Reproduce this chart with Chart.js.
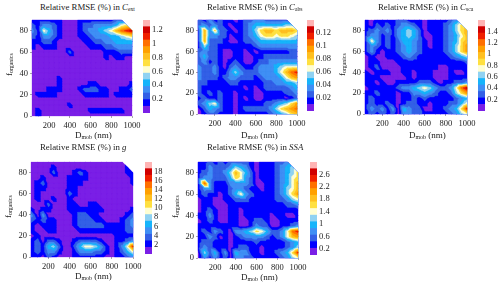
<!DOCTYPE html>
<html>
<head>
<meta charset="utf-8">
<script src="https://cdn.jsdelivr.net/npm/chart.js@4"></script>
<style>
body { margin: 0; background: #fff; width: 500px; height: 286px; overflow: hidden; font-family: "Liberation Serif", serif; color: #222; }
canvas { position: absolute; }
.t { position: absolute; white-space: nowrap; line-height: 1; }
sub { font-size: 65%; line-height: 0; vertical-align: -0.25em; }
</style>
</head>
<body>
<script>
// grid nodes of the contour data
var dMob = [35,100,150,200,250,300,350,400,450,500,550,600,650,700,750,800,850,900,950,1000];
var fOrg = [90,85,80,75,70,65,60,55,50,45,40,35,30,25,20,15,10,5,0];

// contour band at each node, one string per row, hex digit = band, . = no data
var cExt = [
  '111111000111111122..',
  '2133210001223333467.',
  '31642100012334568abc',
  '21332100011233344567',
  '11221000001122334444',
  '10111000000111223333',
  '00000002000000111222',
  '00000000000000101100',
  '00000000000000000000',
  '00000000000000000000',
  '00000000000000000000',
  '00000100000000000000',
  '00000100000110000001',
  '00011100012221100112',
  '01111000001111101111',
  '00000000000000000000',
  '00000001000000000000',
  '01000000000111111100',
  '01000000000000000000'
];
var cAbs = [
  '213121101223322222..',
  '2323210112344444455.',
  '18372210123578878887',
  '18332201123467767765',
  '18222100122344444444',
  '15221111111233333333',
  '23221001101011111122',
  '24221001100112222222',
  '23121012100122333333',
  '32231023211233345666',
  '322311353222333468ab',
  '32221233222123334689',
  '22111122111112233445',
  '21111111101012222234',
  '21212110111001111223',
  '12112110101001111012',
  '23562110111112234579',
  '0243211012222235789a',
  '01221110111111234578'
];
var cSca = [
  '101111221110111123..',
  '1021212332101112357.',
  '12323134542011123578',
  '13312134542001123468',
  '16312124432101123478',
  '13212123432101123579',
  '13101123432111123579',
  '01001112321111112345',
  '01100011111111111112',
  '01200001111111001111',
  '10111001101110001001',
  '11100000101110001111',
  '11010011112221011223',
  '011111233456532236ac',
  '11211101133432112579',
  '12111101121211111234',
  '12112101221101112246',
  '1323130432200112347b',
  '12121203322111112356'
];
var cG = [
  '000000000000000000..',
  '0000100000000000001.',
  '00002000121000000011',
  '00100001111000000001',
  '01200001110000000001',
  '01100001100000000000',
  '01000002100000000000',
  '01001001000000000000',
  '00020001100110000000',
  '10110001111111000001',
  '30300000122110000012',
  '21211000122211000123',
  '10111000122222111123',
  '10011000011111111122',
  '01000000000000001111',
  '12022100122221001123',
  '1214520024665310136b',
  '12133100133322101246',
  '11021000111111001123'
];
var cSsa = [
  '112121222210111223..',
  '1132223543101112345.',
  '12322358642011123457',
  '13322247632011123467',
  '1a311133332001123468',
  '13311123321101123568',
  '12110124632111123579',
  '01100112221111122356',
  '01100011111111111223',
  '01210011011111111111',
  '11310011011111011001',
  '01210011001221001111',
  '11111111001322001123',
  '121321033457642236ab',
  '11320101233332123689',
  '12211101111211111234',
  '13211101221101111235',
  '0524130433110112347b',
  '03131203322111112356'
];

// top of each colour bar and its labels
var barTops = [1.34, 0.14, 1.6, 20, 3];
var ticksExt = [0.2,0.4,0.6,0.8,1,1.2];
var ticksAbs = [0.02,0.04,0.06,0.08,0.1,0.12];
var ticksSca = [0.2,0.4,0.6,0.8,1,1.2,1.4];
var ticksG = [2,4,6,8,10,12,14,16,18];
var ticksSsa = [0.2,0.6,1,1.4,1.8,2.2,2.6];

var bandColors = ['#7a1fe6','#0000ff','#3360e6','#3f8ff5','#16b4fb','#90d2f2','#fffed2','#ffe040','#ffc020','#ffa000','#ff7000','#f02000','#d00000','#ffb4b4'];

var xTicks = [200,400,600,800,1000];
var yTicks = [0,20,40,60,80];

var panels = [
  { grid: cExt, ticks: ticksExt, top: barTops[0], x: 32, y: 17, w: 100, h: 99, barX: 143, title: 'Relative RMSE (%) in <i>C</i><sub>ext</sub>', tx: 40, ty: 3, lx: 75, ly: 131 },
  { grid: cAbs, ticks: ticksAbs, top: barTops[1], x: 198, y: 17, w: 99, h: 97, barX: 307, title: 'Relative RMSE (%) in <i>C</i><sub>abs</sub>', tx: 207, ty: 3, lx: 241, ly: 131 },
  { grid: cSca, ticks: ticksSca, top: barTops[2], x: 365, y: 17, w: 102, h: 97, barX: 478, title: 'Relative RMSE (%) in <i>C</i><sub>sca</sub>', tx: 378, ty: 3, lx: 409, ly: 131 },
  { grid: cG, ticks: ticksG, top: barTops[3], x: 31, y: 159, w: 102, h: 98, barX: 145, title: 'Relative RMSE (%) in <i>g</i>', tx: 40, ty: 143, lx: 75, ly: 272 },
  { grid: cSsa, ticks: ticksSsa, top: barTops[4], x: 198, y: 159, w: 100, h: 99, barX: 310, title: 'Relative RMSE (%) in <i>SSA</i>', tx: 207, ty: 143, lx: 241, ly: 273 }
];

var tickFont = { family: 'Liberation Serif', size: 8.5 };

function addText(html, x, y, size, rotate) {
  var d = document.createElement('div');
  d.className = 't';
  d.innerHTML = html;
  d.style.left = x + 'px';
  d.style.top = y + 'px';
  d.style.fontSize = size + 'px';
  if (rotate) {
    d.style.transformOrigin = '0 0';
    d.style.transform = 'rotate(-90deg)';
  }
  document.body.appendChild(d);
}

function addCanvas(x, y, w, h) {
  var c = document.createElement('canvas');
  c.width = w;
  c.height = h;
  c.style.left = x + 'px';
  c.style.top = y + 'px';
  c.style.width = w + 'px';
  c.style.height = h + 'px';
  document.body.appendChild(c);
  return c.getContext('2d');
}

// keep the part of a triangle where value >= level
function clipTri(tri, level) {
  var out = [];
  for (var i = 0; i < 3; i++) {
    var a = tri[i], b = tri[(i + 1) % 3];
    if (a.v >= level) out.push(a);
    if ((a.v >= level) !== (b.v >= level)) {
      var t = (level - a.v) / (b.v - a.v);
      out.push({ px: a.px + t * (b.px - a.px), py: a.py + t * (b.py - a.py), v: level });
    }
  }
  return out;
}

// filled contours of the grid dataset, placed with the chart's scales
var contourPlugin = {
  id: 'contour',
  beforeDatasetsDraw: function(chart) {
    var ds = chart.data.datasets[0].data;
    var step = chart.options.plugins.contour.step;
    var nx = dMob.length;
    var nodes = ds.map(function(n) {
      return {
        px: chart.scales.x.getPixelForValue(n.x),
        py: chart.scales.y.getPixelForValue(n.y),
        v: n.v === null ? null : n.v / step
      };
    });
    var tris = [];
    for (var r = 0; r < fOrg.length - 1; r++) {
      for (var i = 0; i < nx - 1; i++) {
        var a = nodes[r * nx + i], b = nodes[r * nx + i + 1];
        var c = nodes[(r + 1) * nx + i], d = nodes[(r + 1) * nx + i + 1];
        [[a, b, d], [a, d, c]].forEach(function(t) {
          if (t[0].v !== null && t[1].v !== null && t[2].v !== null) tris.push(t);
        });
      }
    }
    var ctx = chart.ctx;
    ctx.save();
    bandColors.forEach(function(color, level) {
      ctx.beginPath();
      tris.forEach(function(t) {
        var poly = clipTri(t, level);
        if (poly.length < 3) return;
        ctx.moveTo(poly[0].px, poly[0].py);
        for (var k = 1; k < poly.length; k++) ctx.lineTo(poly[k].px, poly[k].py);
        ctx.closePath();
      });
      ctx.fillStyle = color;
      ctx.strokeStyle = color;
      ctx.lineWidth = 0.3;
      ctx.fill();
      ctx.stroke();
    });
    ctx.restore();
  }
};

function drawPanel(p) {
  var step = p.top / 14;
  var nodes = [];
  fOrg.forEach(function(f, r) {
    dMob.forEach(function(d, i) {
      var ch = p.grid[r][i];
      nodes.push({ x: d, y: f, v: ch === '.' ? null : (parseInt(ch, 16) + 0.5) * step });
    });
  });

  new Chart(addCanvas(p.x - 24, p.y - 4, p.w + 40, p.h + 20), {
    type: 'scatter',
    data: { datasets: [{ data: nodes, pointRadius: 0 }] },
    plugins: [contourPlugin],
    options: {
      responsive: false,
      animation: false,
      events: [],
      layout: { padding: { top: 4, right: 16, left: 0, bottom: 0 } },
      plugins: { legend: { display: false }, tooltip: { enabled: false }, contour: { step: step } },
      scales: {
        x: {
          type: 'linear', min: 35, max: 1000,
          afterBuildTicks: function(s) { s.ticks = xTicks.map(function(v) { return { value: v }; }); },
          afterFit: function(s) { s.height = 16; },
          grid: { drawOnChartArea: false, tickLength: 2, color: '#aaa' },
          border: { display: false },
          ticks: { font: tickFont, color: '#222', padding: 3, maxRotation: 0, autoSkip: false, callback: function(v) { return v; } }
        },
        y: {
          min: 0, max: 90,
          afterBuildTicks: function(s) { s.ticks = yTicks.map(function(v) { return { value: v }; }); },
          afterFit: function(s) { s.width = 24; },
          grid: { drawOnChartArea: false, tickLength: 2, color: '#aaa' },
          border: { display: false },
          ticks: { font: tickFont, color: '#222', padding: 2, autoSkip: false, callback: function(v) { return v; } }
        }
      }
    }
  });

  // colour bar
  var barSets = bandColors.map(function(c, i) {
    return { data: [[i * step, (i + 1) * step]], backgroundColor: c, borderWidth: 0 };
  });
  new Chart(addCanvas(p.barX, p.y - 4, 30, p.h + 8), {
    type: 'bar',
    data: { labels: [''], datasets: barSets },
    options: {
      responsive: false,
      animation: false,
      events: [],
      layout: { padding: { top: 4, bottom: 4, left: 0, right: 0 } },
      plugins: { legend: { display: false }, tooltip: { enabled: false } },
      datasets: { bar: { grouped: false, barPercentage: 1, categoryPercentage: 1 } },
      scales: {
        x: { display: false },
        y: {
          position: 'right', min: 0, max: p.top,
          afterBuildTicks: function(s) { s.ticks = p.ticks.map(function(v) { return { value: v }; }); },
          afterFit: function(s) { s.width = 23; },
          grid: { display: false, drawTicks: false },
          border: { display: false },
          ticks: { font: tickFont, color: '#222', padding: 2, autoSkip: false, callback: function(v) { return v; } }
        }
      }
    }
  });

  addText(p.title, p.tx, p.ty, 8.8);
  addText('D<sub>mob</sub> (nm)', p.lx, p.ly, 9);
  addText('f<sub>organics</sub>', p.x - 27, p.y + 59, 9, true);
}

panels.forEach(drawPanel);
</script>
</body>
</html>
